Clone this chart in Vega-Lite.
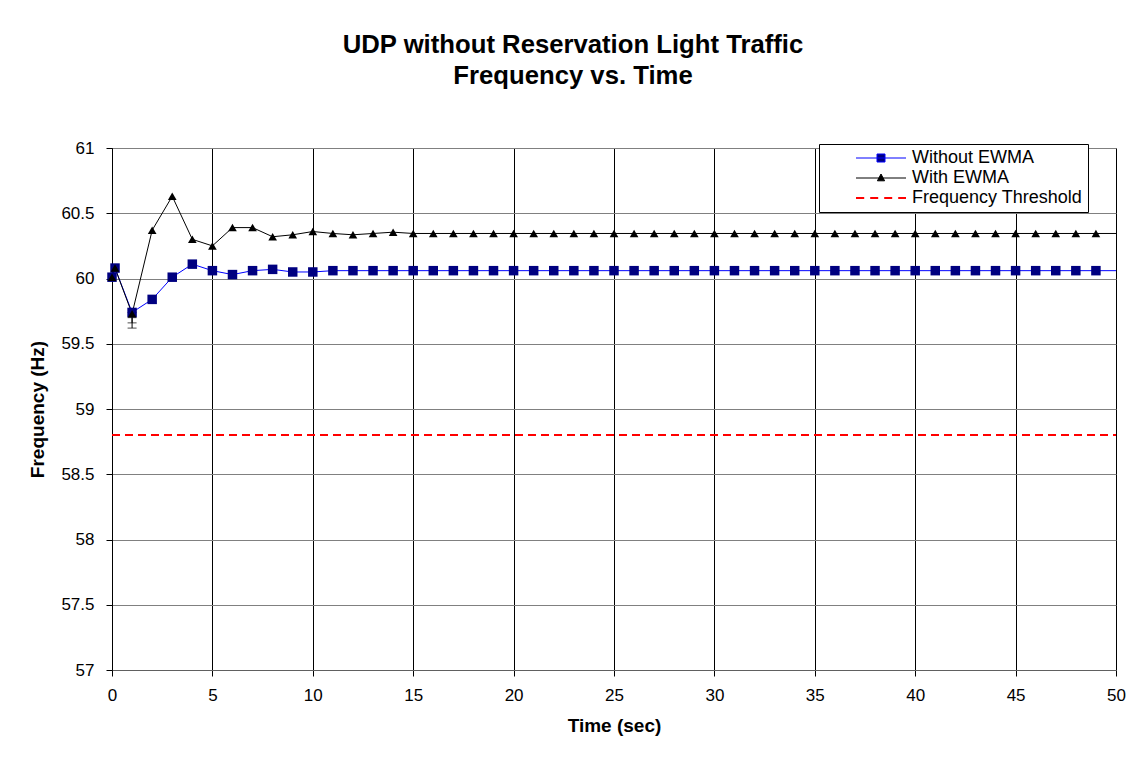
{
  "$schema": "https://vega.github.io/schema/vega-lite/v6.json",
  "width": 1004,
  "height": 522,
  "autosize": {"type": "none"},
  "padding": {"left": 112, "top": 148, "right": 22, "bottom": 91},
  "background": "white",
  "config": {
    "font": "Liberation Sans",
    "view": {"stroke": "#808080"},
    "axis": {
      "labelFont": "Liberation Sans",
      "labelFontSize": 17,
      "labelColor": "black",
      "titleFont": "Liberation Sans",
      "titleFontSize": 19,
      "titleFontWeight": "bold",
      "titleColor": "black",
      "tickColor": "black",
      "tickSize": 6,
      "domainColor": "black",
      "gridOpacity": 1,
      "gridWidth": 1
    }
  },
  "title": {
    "text": ["UDP without Reservation Light Traffic", "Frequency vs. Time"],
    "font": "Liberation Sans",
    "fontSize": 25.7,
    "fontWeight": "bold",
    "color": "black",
    "lineHeight": 31,
    "anchor": "middle",
    "offset": 49,
    "dx": -41
  },
  "datasets": {
    "series": [
      {"t": 0, "f": 60.01, "series": "Without EWMA"},
      {"t": 0.15, "f": 60.08, "series": "Without EWMA"},
      {"t": 1, "f": 59.74, "series": "Without EWMA"},
      {"t": 2, "f": 59.84, "series": "Without EWMA"},
      {"t": 3, "f": 60.01, "series": "Without EWMA"},
      {"t": 4, "f": 60.11, "series": "Without EWMA"},
      {"t": 5, "f": 60.06, "series": "Without EWMA"},
      {"t": 6, "f": 60.03, "series": "Without EWMA"},
      {"t": 7, "f": 60.06, "series": "Without EWMA"},
      {"t": 8, "f": 60.07, "series": "Without EWMA"},
      {"t": 9, "f": 60.05, "series": "Without EWMA"},
      {"t": 10, "f": 60.05, "series": "Without EWMA"},
      {"t": 11, "f": 60.06, "series": "Without EWMA"},
      {"t": 12, "f": 60.06, "series": "Without EWMA"},
      {"t": 13, "f": 60.06, "series": "Without EWMA"},
      {"t": 14, "f": 60.06, "series": "Without EWMA"},
      {"t": 15, "f": 60.06, "series": "Without EWMA"},
      {"t": 16, "f": 60.06, "series": "Without EWMA"},
      {"t": 17, "f": 60.06, "series": "Without EWMA"},
      {"t": 18, "f": 60.06, "series": "Without EWMA"},
      {"t": 19, "f": 60.06, "series": "Without EWMA"},
      {"t": 20, "f": 60.06, "series": "Without EWMA"},
      {"t": 21, "f": 60.06, "series": "Without EWMA"},
      {"t": 22, "f": 60.06, "series": "Without EWMA"},
      {"t": 23, "f": 60.06, "series": "Without EWMA"},
      {"t": 24, "f": 60.06, "series": "Without EWMA"},
      {"t": 25, "f": 60.06, "series": "Without EWMA"},
      {"t": 26, "f": 60.06, "series": "Without EWMA"},
      {"t": 27, "f": 60.06, "series": "Without EWMA"},
      {"t": 28, "f": 60.06, "series": "Without EWMA"},
      {"t": 29, "f": 60.06, "series": "Without EWMA"},
      {"t": 30, "f": 60.06, "series": "Without EWMA"},
      {"t": 31, "f": 60.06, "series": "Without EWMA"},
      {"t": 32, "f": 60.06, "series": "Without EWMA"},
      {"t": 33, "f": 60.06, "series": "Without EWMA"},
      {"t": 34, "f": 60.06, "series": "Without EWMA"},
      {"t": 35, "f": 60.06, "series": "Without EWMA"},
      {"t": 36, "f": 60.06, "series": "Without EWMA"},
      {"t": 37, "f": 60.06, "series": "Without EWMA"},
      {"t": 38, "f": 60.06, "series": "Without EWMA"},
      {"t": 39, "f": 60.06, "series": "Without EWMA"},
      {"t": 40, "f": 60.06, "series": "Without EWMA"},
      {"t": 41, "f": 60.06, "series": "Without EWMA"},
      {"t": 42, "f": 60.06, "series": "Without EWMA"},
      {"t": 43, "f": 60.06, "series": "Without EWMA"},
      {"t": 44, "f": 60.06, "series": "Without EWMA"},
      {"t": 45, "f": 60.06, "series": "Without EWMA"},
      {"t": 46, "f": 60.06, "series": "Without EWMA"},
      {"t": 47, "f": 60.06, "series": "Without EWMA"},
      {"t": 48, "f": 60.06, "series": "Without EWMA"},
      {"t": 49, "f": 60.06, "series": "Without EWMA"},
      {"t": 50, "f": 60.06, "series": "Without EWMA"},
      {"t": 0, "f": 60.01, "series": "With EWMA"},
      {"t": 0.15, "f": 60.08, "series": "With EWMA"},
      {"t": 1, "f": 59.73, "series": "With EWMA"},
      {"t": 2, "f": 60.37, "series": "With EWMA"},
      {"t": 3, "f": 60.63, "series": "With EWMA"},
      {"t": 4, "f": 60.3, "series": "With EWMA"},
      {"t": 5, "f": 60.25, "series": "With EWMA"},
      {"t": 6, "f": 60.39, "series": "With EWMA"},
      {"t": 7, "f": 60.39, "series": "With EWMA"},
      {"t": 8, "f": 60.32, "series": "With EWMA"},
      {"t": 9, "f": 60.335, "series": "With EWMA"},
      {"t": 10, "f": 60.36, "series": "With EWMA"},
      {"t": 11, "f": 60.345, "series": "With EWMA"},
      {"t": 12, "f": 60.335, "series": "With EWMA"},
      {"t": 13, "f": 60.345, "series": "With EWMA"},
      {"t": 14, "f": 60.355, "series": "With EWMA"},
      {"t": 15, "f": 60.345, "series": "With EWMA"},
      {"t": 16, "f": 60.345, "series": "With EWMA"},
      {"t": 17, "f": 60.345, "series": "With EWMA"},
      {"t": 18, "f": 60.345, "series": "With EWMA"},
      {"t": 19, "f": 60.345, "series": "With EWMA"},
      {"t": 20, "f": 60.345, "series": "With EWMA"},
      {"t": 21, "f": 60.345, "series": "With EWMA"},
      {"t": 22, "f": 60.345, "series": "With EWMA"},
      {"t": 23, "f": 60.345, "series": "With EWMA"},
      {"t": 24, "f": 60.345, "series": "With EWMA"},
      {"t": 25, "f": 60.345, "series": "With EWMA"},
      {"t": 26, "f": 60.345, "series": "With EWMA"},
      {"t": 27, "f": 60.345, "series": "With EWMA"},
      {"t": 28, "f": 60.345, "series": "With EWMA"},
      {"t": 29, "f": 60.345, "series": "With EWMA"},
      {"t": 30, "f": 60.345, "series": "With EWMA"},
      {"t": 31, "f": 60.345, "series": "With EWMA"},
      {"t": 32, "f": 60.345, "series": "With EWMA"},
      {"t": 33, "f": 60.345, "series": "With EWMA"},
      {"t": 34, "f": 60.345, "series": "With EWMA"},
      {"t": 35, "f": 60.345, "series": "With EWMA"},
      {"t": 36, "f": 60.345, "series": "With EWMA"},
      {"t": 37, "f": 60.345, "series": "With EWMA"},
      {"t": 38, "f": 60.345, "series": "With EWMA"},
      {"t": 39, "f": 60.345, "series": "With EWMA"},
      {"t": 40, "f": 60.345, "series": "With EWMA"},
      {"t": 41, "f": 60.345, "series": "With EWMA"},
      {"t": 42, "f": 60.345, "series": "With EWMA"},
      {"t": 43, "f": 60.345, "series": "With EWMA"},
      {"t": 44, "f": 60.345, "series": "With EWMA"},
      {"t": 45, "f": 60.345, "series": "With EWMA"},
      {"t": 46, "f": 60.345, "series": "With EWMA"},
      {"t": 47, "f": 60.345, "series": "With EWMA"},
      {"t": 48, "f": 60.345, "series": "With EWMA"},
      {"t": 49, "f": 60.345, "series": "With EWMA"},
      {"t": 50, "f": 60.345, "series": "With EWMA"},
      {"t": 0, "f": 58.8, "series": "Frequency Threshold"},
      {"t": 50, "f": 58.8, "series": "Frequency Threshold"}
    ],
    "errors": [
      {"t": 1, "series": "With EWMA", "lo": 59.62, "hi": 59.7},
      {"t": 1, "series": "Without EWMA", "lo": 59.66, "hi": 59.74}
    ]
  },
  "layer": [
    {
      "data": {"name": "series"},
      "transform": [{"filter": "datum.series == 'Frequency Threshold'"}],
      "mark": {"type": "line", "strokeWidth": 2, "strokeDash": [8, 5], "opacity": 1, "strokeCap": "butt"},
      "encoding": {
        "x": {
          "field": "t", "type": "quantitative",
          "scale": {"domain": [0, 50], "nice": false, "zero": false},
          "axis": {
            "title": "Time (sec)",
            "values": [0, 5, 10, 15, 20, 25, 30, 35, 40, 45, 50],
            "grid": true, "gridColor": "black",
            "domainColor": "#606060",
            "labelPadding": 11, "titlePadding": 13,
            "labelFlush": false
          }
        },
        "y": {
          "field": "f", "type": "quantitative",
          "scale": {"domain": [57, 61], "nice": false, "zero": false},
          "axis": {
            "title": "Frequency (Hz)",
            "values": [57, 57.5, 58, 58.5, 59, 59.5, 60, 60.5, 61],
            "format": "~f",
            "grid": true, "gridColor": "#808080",
            "labelPadding": 12, "titlePadding": 13,
            "labelFlush": false
          }
        },
        "color": {
          "field": "series", "type": "nominal",
          "scale": {
            "domain": ["Without EWMA", "With EWMA", "Frequency Threshold"],
            "range": ["#0000ff", "#000000", "#ff0000"]
          },
          "legend": {
            "orient": "none",
            "legendX": 707,
            "legendY": -4,
            "title": null,
            "strokeColor": "black",
            "fillColor": "white",
            "padding": 5,
            "labelFont": "Liberation Sans",
            "labelFontSize": 18,
            "labelColor": "black",
            "labelLimit": 400,
            "symbolSize": 256,
            "symbolStrokeWidth": 1,
            "symbolOpacity": 1,
            "symbolOffset": 48,
            "labelOffset": 22,
            "rowPadding": 2,
            "encode": {
              "symbols": {
                "update": {
                  "shape": {"signal": "datum.value == 'Without EWMA' ? 'M-3.125,0H3.125M-0.5,-0.5H0.5V0.5H-0.5Z' : datum.value == 'With EWMA' ? 'M-3.125,0H3.125M0,-0.5L0.45,0.35H-0.45Z' : 'M-3.125,0H-2.1M-1.35,0H-0.35M0.4,0H1.4M2.15,0H3.125'"},
                  "fill": {"signal": "datum.value == 'Without EWMA' ? '#000080' : datum.value == 'With EWMA' ? '#000000' : 'transparent'"},
                  "fillOpacity": {"value": 1},
                  "strokeOpacity": {"value": 1},
                  "opacity": {"value": 1},
                  "strokeWidth": {"signal": "datum.value == 'Frequency Threshold' ? 2 : 1"}
                }
              }
            }
          }
        }
      }
    },
    {
      "data": {"name": "series"},
      "transform": [{"filter": "datum.series != 'Frequency Threshold'"}],
      "mark": {"type": "line", "strokeWidth": 1, "opacity": 1},
      "encoding": {
        "x": {"field": "t", "type": "quantitative"},
        "y": {"field": "f", "type": "quantitative"},
        "color": {"field": "series", "type": "nominal"}
      }
    },
    {
      "data": {"name": "errors"},
      "mark": {"type": "rule", "color": "black", "strokeWidth": 1},
      "encoding": {
        "x": {"field": "t", "type": "quantitative"},
        "y": {"field": "lo", "type": "quantitative"},
        "y2": {"field": "hi"}
      }
    },
    {
      "data": {"name": "errors"},
      "transform": [{"fold": ["lo", "hi"], "as": ["end", "v"]}],
      "mark": {"type": "tick", "orient": "horizontal", "color": "black", "size": 9, "thickness": 1},
      "encoding": {
        "x": {"field": "t", "type": "quantitative"},
        "y": {"field": "v", "type": "quantitative"}
      }
    },
    {
      "data": {"name": "series"},
      "transform": [{"filter": "datum.series == 'Without EWMA' && datum.t < 50"}],
      "mark": {"type": "point", "shape": "square", "filled": true, "color": "#000080", "size": 90, "opacity": 1},
      "encoding": {
        "x": {"field": "t", "type": "quantitative"},
        "y": {"field": "f", "type": "quantitative"}
      }
    },
    {
      "data": {"name": "series"},
      "transform": [{"filter": "datum.series == 'With EWMA' && datum.t < 50"}],
      "mark": {"type": "point", "shape": "triangle-up", "filled": true, "color": "#000000", "size": 75, "opacity": 1},
      "encoding": {
        "x": {"field": "t", "type": "quantitative"},
        "y": {"field": "f", "type": "quantitative"}
      }
    }
  ]
}
